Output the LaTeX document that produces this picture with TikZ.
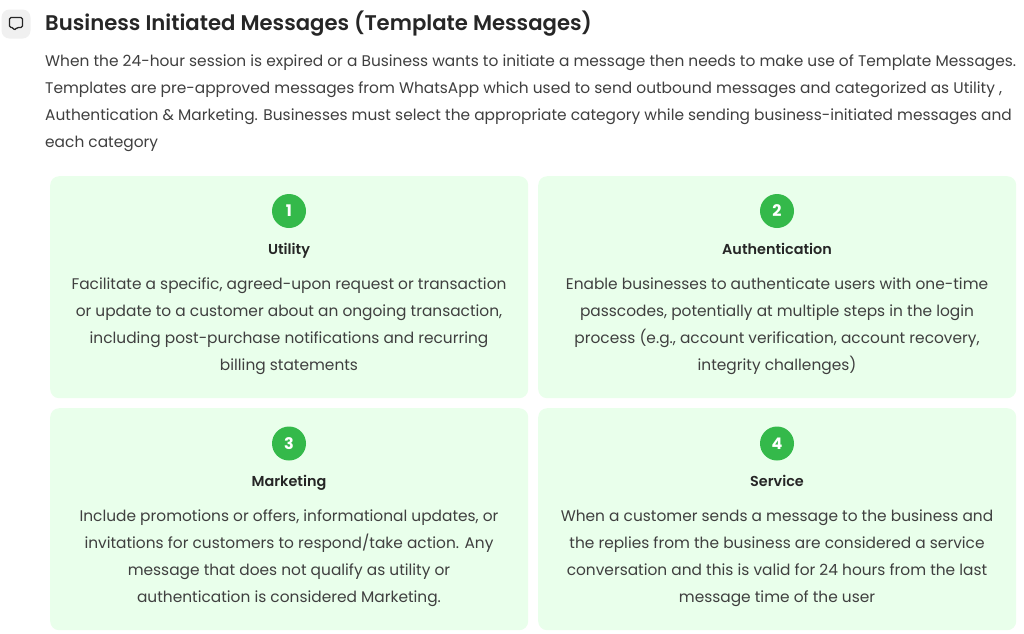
\documentclass[tikz,border=0pt]{standalone}
\usepackage{fontspec}
\setmainfont{Poppins}
\newfontfamily\popsemi{Poppins SemiBold}
\definecolor{cardfill}{HTML}{E9FFEB}
\definecolor{badge}{HTML}{34B94A}
\definecolor{bodytxt}{HTML}{3F3F3F}
\definecolor{headtxt}{HTML}{262626}
\definecolor{iconbg}{HTML}{F0F0F0}
\tikzset{x=1pt,y=-1pt,
  cardbox/.style={fill=cardfill,draw=none,rounded corners=9pt,anchor=north west,inner sep=0pt},
  numbadge/.style={circle,fill=badge,minimum size=34pt,inner sep=0pt,text=white,font=\fontsize{16}{16}\selectfont\bfseries},
  cardtitle/.style={font=\fontsize{14.4}{16}\popsemi\selectfont,text=headtxt,inner sep=0pt,anchor=base},
  cardtext/.style={font=\fontsize{15.4}{27}\selectfont,text=bodytxt,align=center,inner sep=0pt,anchor=north},
  bodyline/.style={font=\fontsize{15.4}{27}\selectfont,text=bodytxt,anchor=west,inner sep=0pt}}
\begin{document}
\begin{tikzpicture}
\useasboundingbox (0,0) rectangle (1024,633);
\fill[white] (0,0) rectangle (1024,633);
\node[fill=iconbg,rounded corners=8pt,minimum size=29pt,inner sep=0pt] (iconbox) at (16,24) {};
\draw[headtxt,line width=1.3pt,rounded corners=1.5pt] (9.5,17.5) -- (22.5,17.5) -- (22.5,27.5) -- (17,27.5) -- (14,30.5) -- (13.5,27.5) -- (9.5,27.5) -- cycle;
\node[anchor=west,inner sep=0pt,font=\fontsize{21.2}{24}\popsemi\selectfont,text=headtxt] (heading) at (45,24) {Business Initiated Messages (Template Messages)};
\node[bodyline] (p1) at (45,62.5) {When the 24-hour session is expired or a Business wants to initiate a message then needs to make use of Template Messages.};
\node[bodyline] (p2) at (45,89.5) {Templates are pre-approved messages from WhatsApp which used to send outbound messages and categorized as Utility ,};
\node[bodyline] (p3) at (45,116.5) {Authentication \& Marketing. Businesses must select the appropriate category while sending business-initiated messages and};
\node[bodyline] (p4) at (45,143.5) {each category};
\node[cardbox,minimum width=478pt,minimum height=222pt] (c1) at (50,176) {};
\node[cardbox,minimum width=478pt,minimum height=222pt] (c2) at (538,176) {};
\node[cardbox,minimum width=478pt,minimum height=222pt] (c3) at (50,408) {};
\node[cardbox,minimum width=478pt,minimum height=222pt] (c4) at (538,408) {};
\node[numbadge] (b1) at (289,211) {1};
\node[numbadge] (b2) at (777,211) {2};
\node[numbadge] (b3) at (289,443.5) {3};
\node[numbadge] (b4) at (777,443.5) {4};
\node[cardtitle] (t1) at (289,254.5) {Utility};
\node[cardtitle] (t2) at (777,254.5) {Authentication};
\node[cardtitle] (t3) at (289,486.5) {Marketing};
\node[cardtitle] (t4) at (777,486.5) {Service};
\node[cardtext] (d1) at (289,278) {Facilitate a specific, agreed-upon request or transaction\\or update to a customer about an ongoing transaction,\\including post-purchase notifications and recurring\\billing statements};
\node[cardtext] (d2) at (777,278) {Enable businesses to authenticate users with one-time\\passcodes, potentially at multiple steps in the login\\process (e.g., account verification, account recovery,\\integrity challenges)};
\node[cardtext] (d3) at (289,510) {Include promotions or offers, informational updates, or\\invitations for customers to respond/take action. Any\\message that does not qualify as utility or\\authentication is considered Marketing.};
\node[cardtext] (d4) at (777,510) {When a customer sends a message to the business and\\the replies from the business are considered a service\\conversation and this is valid for 24 hours from the last\\message time of the user};
\end{tikzpicture}
\end{document}
